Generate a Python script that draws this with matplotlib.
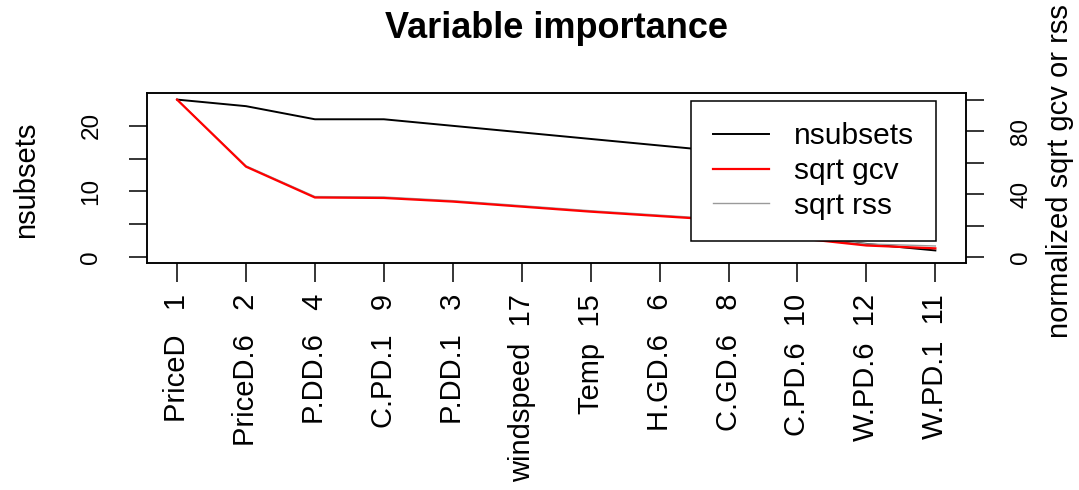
import matplotlib
matplotlib.use("Agg")
import matplotlib.pyplot as plt
from matplotlib.lines import Line2D

plt.rcParams['font.family'] = ['Liberation Sans', 'DejaVu Sans']

# ---- data ----
var_names = ["PriceD", "PriceD.6", "P.DD.6", "C.PD.1", "P.DD.1", "windspeed",
             "Temp", "H.GD.6", "C.GD.6", "C.PD.6", "W.PD.6", "W.PD.1"]
var_cols = [1, 2, 4, 9, 3, 17, 15, 6, 8, 10, 12, 11]
nsubsets = [24, 23, 21, 21, 20, 19, 18, 17, 16, 3, 2, 1]
sqrt_gcv = [100, 57.4, 37.8, 37.5, 35.2, 32.0, 28.8, 26.0, 23.2, 12.0, 7.3, 5.5]
sqrt_rss = [100, 57.9, 38.4, 38.1, 35.8, 32.6, 29.4, 26.6, 23.8, 13.0, 8.3, 7.0]
left_ticks = [0, 5, 10, 15, 20]
left_ticklabels = ["0", "", "10", "", "20"]
right_ticks = [0, 20, 40, 60, 80, 100]
right_ticklabels = ["0", "", "40", "", "80", ""]

labels = [f"{n}  {c:>2}" for n, c in zip(var_names, var_cols)]
x = list(range(1, len(var_names) + 1))

W, H = 1079, 490
fig = plt.figure(figsize=(W / 100, H / 100), dpi=100)
L, R, T, B = 146.7, 965.7, 93.3, 263.3
ax = fig.add_axes([L / W, 1 - B / H, (R - L) / W, (B - T) / H])
ax2 = ax.twinx()

n = len(x)
pad = 0.04 * (n - 1)
ax.set_xlim(1 - pad, n + pad)
maxn = max(nsubsets)
ax.set_ylim(-0.04 * maxn, 1.04 * maxn)
ax2.set_ylim(-4, 104)

ax.plot(x, nsubsets, color="black", lw=1.4, zorder=3)
ax2.plot(x, sqrt_rss, color="#9a9a9a", lw=1.0, zorder=2)
ax2.plot(x, sqrt_gcv, color="red", lw=1.6, zorder=3)

fs_num = 17.5
fs_txt = 21

ax.set_xticks(x)
ax.set_xticklabels(labels, rotation=90, fontsize=fs_txt)
ax.set_yticks(left_ticks)
ax.set_yticklabels(left_ticklabels, rotation=90, va="center", fontsize=fs_num)
ax2.set_yticks(right_ticks)
ax2.set_yticklabels(right_ticklabels, rotation=90, va="center", fontsize=fs_num)

ax.tick_params(axis="x", length=14, width=1.1, pad=8, direction="out")
ax.tick_params(axis="y", length=13, width=1.1, pad=19, direction="out")
ax2.tick_params(axis="y", length=13, width=1.1, pad=19, direction="out")
for a in (ax, ax2):
    for s in a.spines.values():
        s.set_linewidth(1.1)
        s.set_color("black")

ax.text((26 - L) / (R - L), (B - 180) / (B - T), "nsubsets", transform=ax.transAxes,
        rotation=90, ha="center", va="center", fontsize=fs_txt)
ax2.text((1060 - L) / (R - L), (B - 171) / (B - T), "normalized sqrt gcv or rss",
         transform=ax2.transAxes, rotation=90, ha="center", va="center", fontsize=fs_txt)
ax.text(0.5, (B - 38) / (B - T), "Variable importance", transform=ax.transAxes,
        ha="center", va="baseline", fontsize=26, fontweight="bold")

handles = [Line2D([], [], color="black", lw=1.4),
           Line2D([], [], color="red", lw=1.6),
           Line2D([], [], color="#9a9a9a", lw=1.0)]
leg = ax2.legend(handles, ["nsubsets", "sqrt gcv", "sqrt rss"],
                 loc="upper right", bbox_to_anchor=(935.7 / W, 1 - 100.7 / H),
                 bbox_transform=fig.transFigure, borderaxespad=0,
                 fontsize=21.5, handlelength=1.9, handletextpad=0.83,
                 labelspacing=0.23, borderpad=0.72, fancybox=False,
                 framealpha=1, edgecolor="black")
leg.get_frame().set_linewidth(1.1)

fig.savefig("out.png", dpi=100)
